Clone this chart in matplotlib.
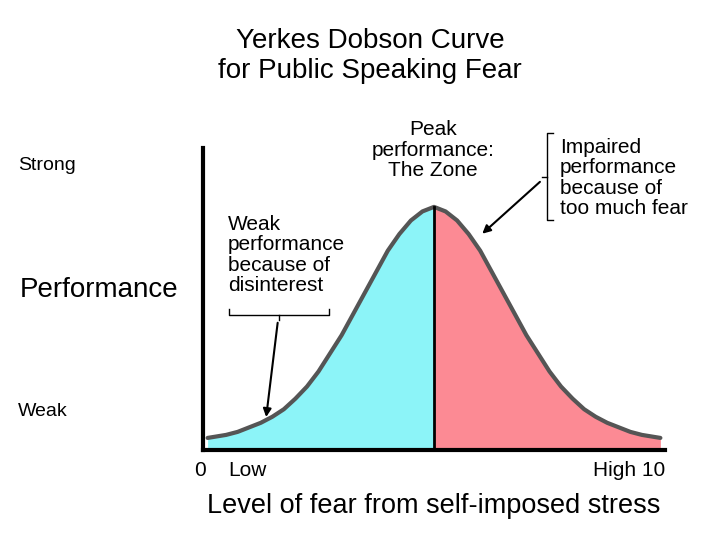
import matplotlib
matplotlib.use("Agg")
import matplotlib.pyplot as plt

plt.rcParams['font.family'] = ['Liberation Sans', 'DejaVu Sans']

fear = [0.1, 0.5, 0.75, 1.0, 1.25, 1.5, 1.75, 2.0, 2.25, 2.5, 2.75, 3.0, 3.25, 3.5, 3.75,
        4.0, 4.25, 4.5, 4.75, 5.0,
        5.25, 5.5, 5.75, 6.0, 6.25, 6.5, 6.75, 7.0, 7.25, 7.5, 7.75, 8.0, 8.25, 8.5, 8.75,
        9.0, 9.25, 9.5, 9.9]
perf = [0.4, 0.5, 0.6, 0.75, 0.9, 1.1, 1.35, 1.7, 2.1, 2.6, 3.2, 3.8, 4.5, 5.2, 5.9,
        6.6, 7.15, 7.6, 7.9, 8.05,
        7.9, 7.6, 7.15, 6.6, 5.9, 5.2, 4.5, 3.8, 3.2, 2.6, 2.1, 1.7, 1.35, 1.1, 0.9,
        0.75, 0.6, 0.5, 0.4]
peak_x = 5.0
title = "Yerkes Dobson Curve\nfor Public Speaking Fear"

W, H = 720, 540
fig = plt.figure(figsize=(7.2, 5.4), dpi=100)
ax = fig.add_axes([203/W, 1-450/H, 462/W, 302/H])
ax.set_xlim(0, 10)
ax.set_ylim(0, 10)
for s in ['top', 'right']:
    ax.spines[s].set_visible(False)
for s in ['left', 'bottom']:
    ax.spines[s].set_linewidth(3)
    ax.spines[s].set_color('black')
ax.set_xticks([]); ax.set_yticks([])
ax.patch.set_alpha(0)

left_x = [x for x in fear if x <= peak_x]
left_y = perf[:len(left_x)]
right_x = [x for x in fear if x >= peak_x]
right_y = perf[len(fear)-len(right_x):]
ax.fill_between(left_x, 0, left_y, color='#8cf4f8', lw=0)
ax.fill_between(right_x, 0, right_y, color='#fc8a94', lw=0)
ax.plot(fear, perf, color='#555555', lw=3, solid_capstyle='round', solid_joinstyle='round')
ax.plot([peak_x, peak_x], [0, max(perf)], color='black', lw=2)

def fx(px): return px / W
def fy(py): return 1 - py / H

fig.text(fx(370), fy(56), title, ha='center', va='center', fontsize=20, linespacing=1.2)
fig.text(fx(18), fy(165), "Strong", fontsize=14, va='center')
fig.text(fx(18), fy(412), "Weak", fontsize=14, va='center')
fig.text(fx(20), fy(290), "Performance", fontsize=20, va='center')
fig.text(fx(194), fy(470), "0", fontsize=15, va='center')
fig.text(fx(228), fy(470), "Low", fontsize=15, va='center')
fig.text(fx(665), fy(470), "High 10", fontsize=15, va='center', ha='right')
fig.text(fx(434), fy(506), "Level of fear from self-imposed stress", fontsize=19.5, va='center', ha='center')
fig.text(fx(433), fy(150), "Peak\nperformance:\nThe Zone", fontsize=15, ha='center', va='center', linespacing=1.1)
fig.text(fx(228), fy(255), "Weak\nperformance\nbecause of\ndisinterest", fontsize=15, ha='left', va='center', linespacing=1.1)
fig.text(fx(560), fy(178), "Impaired\nperformance\nbecause of\ntoo much fear", fontsize=15, ha='left', va='center', linespacing=1.1)

ov = fig.add_axes([0, 0, 1, 1])
ov.set_xlim(0, W); ov.set_ylim(H, 0); ov.axis('off')
ov.plot([229, 229, 329, 329], [309, 315, 315, 309], color='black', lw=1)
ov.plot([279, 279], [315, 320], color='black', lw=1)
ov.plot([553, 547, 547, 553], [133, 133, 220, 220], color='black', lw=1)
ov.plot([542, 547], [177, 177], color='black', lw=1)

ax.annotate("", xy=(1.36, 1.0), xycoords='data', xytext=(fx(278), fy(320)),
            textcoords='figure fraction',
            arrowprops=dict(arrowstyle='-|>', color='black', lw=1.5, mutation_scale=12))
ax.annotate("", xy=(6.0, 7.1), xycoords='data', xytext=(fx(542), fy(180)),
            textcoords='figure fraction',
            arrowprops=dict(arrowstyle='-|>', color='black', lw=1.5, mutation_scale=12))

fig.savefig("out.png", dpi=100)
